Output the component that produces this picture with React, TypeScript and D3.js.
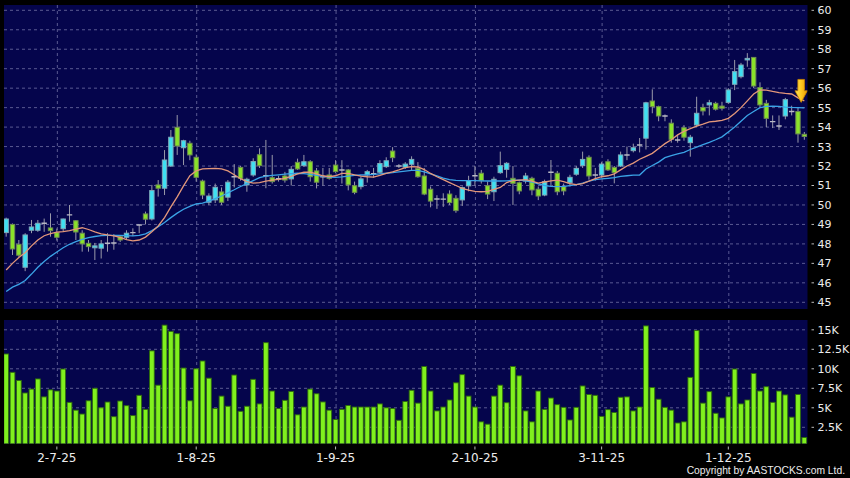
import React from 'react';
import * as d3 from 'd3';

const W = 850;
const H = 478;

const openP = [
  48.58, 49.0, 47.98, 46.8, 48.7, 48.7, 49.06, 48.82, 48.58, 48.78,
  49.49, 49.19, 48.55, 48.03, 47.8, 47.78, 48.03, 48.05, 48.37, 48.34,
  48.58, 48.97, 49.54, 49.28, 51.03, 50.86, 52.0, 53.99, 52.94, 53.17,
  52.45, 51.23, 50.14, 50.26, 50.67, 50.4, 51.45, 51.93, 51.03, 51.54,
  52.58, 51.5, 51.4, 51.35, 51.49, 51.34, 52.19, 52.02, 52.22, 51.75,
  51.45, 51.54, 52.05, 51.8, 51.8, 50.99, 50.94, 51.54, 51.6, 51.68,
  51.97, 52.77, 52.0, 51.94, 52.09, 51.88, 51.49, 50.81, 50.31, 50.3,
  50.56, 50.34, 50.26, 50.98, 51.5, 51.63, 50.99, 50.68, 51.66, 51.83,
  51.37, 51.14, 51.23, 51.37, 50.81, 50.51, 51.68, 51.63, 50.94, 51.14,
  51.58, 52.02, 52.45, 51.54, 51.54, 52.22, 51.93, 52.0, 52.57, 52.79,
  53.08, 53.43, 55.34, 55.05, 54.57, 54.2, 53.34, 53.97, 53.2, 54.11,
  55.01, 55.14, 55.22, 55.08, 55.27, 56.2, 56.59, 57.45, 57.58, 56.03,
  55.22, 54.28, 54.06, 54.57, 54.8, 54.8, 53.63,
];

const closeP = [
  49.28, 47.74, 47.42, 48.46, 48.87, 49.06, 49.06, 48.68, 48.34, 49.28,
  49.49, 48.61, 48.0, 47.86, 47.9, 48.0, 48.03, 48.05, 48.2, 48.55,
  48.58, 48.97, 49.27, 50.74, 50.86, 52.31, 53.48, 53.03, 53.3, 52.57,
  51.42, 50.51, 50.46, 50.91, 50.14, 51.17, 51.45, 51.37, 51.32, 52.23,
  52.02, 51.5, 51.2, 51.35, 51.28, 51.83, 51.85, 52.22, 51.45, 51.17,
  51.45, 51.37, 51.71, 51.8, 51.03, 50.65, 51.34, 51.71, 51.6, 52.13,
  52.27, 52.43, 52.0, 52.1, 52.34, 51.45, 50.56, 50.2, 50.31, 50.3,
  50.12, 49.71, 50.89, 51.25, 51.5, 51.25, 50.56, 51.32, 52.02, 52.14,
  51.11, 50.72, 51.49, 50.77, 50.46, 51.2, 51.68, 50.68, 50.72, 51.42,
  51.88, 52.34, 51.49, 51.54, 52.1, 51.8, 51.66, 52.57, 52.57, 52.94,
  53.08, 55.25, 55.05, 54.57, 54.57, 53.37, 53.34, 53.48, 53.48, 54.71,
  54.83, 55.25, 54.92, 54.97, 55.91, 56.85, 57.19, 57.53, 56.11, 55.14,
  54.45, 54.28, 54.06, 55.41, 54.8, 53.65, 53.52,
];

const highP = [
  49.35, 49.05, 48.2, 48.55, 49.23, 49.23, 49.3, 49.57, 48.79, 49.3,
  50.0, 49.22, 48.7, 48.2, 48.05, 48.2, 48.55, 48.5, 48.45, 48.7,
  48.8, 49.0, 49.66, 51.03, 51.28, 52.82, 53.85, 54.62, 53.35, 53.3,
  52.6, 51.3, 50.6, 51.1, 50.9, 51.28, 52.1, 52.0, 51.4, 52.4,
  52.91, 53.34, 52.57, 51.5, 51.7, 52.0, 52.38, 52.57, 52.3, 51.9,
  51.9, 51.9, 52.3, 52.3, 51.85, 51.2, 51.45, 51.8, 51.9, 52.3,
  52.45, 52.97, 52.1, 52.2, 52.5, 52.2, 51.9, 50.95, 50.5, 50.6,
  50.75, 50.5, 50.95, 51.5, 52.0, 51.8, 51.2, 51.45, 52.74, 52.2,
  52.0, 51.2, 51.65, 51.45, 50.95, 51.3, 52.31, 51.75, 51.1, 51.55,
  52.0, 52.74, 52.55, 51.9, 52.2, 52.35, 52.0, 52.74, 53.0, 53.15,
  53.44, 55.3, 55.94, 55.1, 54.65, 54.4, 53.6, 54.1, 53.6, 55.56,
  55.2, 55.4, 55.3, 55.3, 56.0, 57.45, 57.3, 57.8, 57.6, 56.3,
  55.4, 54.6, 54.6, 55.5, 55.1, 55.0, 53.75,
];

const lowP = [
  48.37, 47.43, 47.34, 46.6, 48.55, 48.62, 48.62, 48.37, 48.17, 48.62,
  49.14, 48.2, 47.6, 47.6, 47.17, 47.25, 47.6, 47.7, 48.1, 48.2,
  48.4, 48.55, 49.0, 49.2, 50.43, 50.51, 51.95, 52.57, 52.05, 52.3,
  51.2, 50.3, 50.0, 50.1, 50.0, 50.2, 50.9, 51.25, 50.68, 51.45,
  51.9, 50.86, 51.1, 51.2, 51.15, 51.0, 51.8, 51.95, 51.2, 50.85,
  51.0, 51.3, 51.65, 51.1, 50.75, 50.55, 50.8, 51.15, 51.4, 51.6,
  51.9, 52.2, 51.9, 51.85, 51.8, 51.4, 50.5, 49.88, 49.8, 49.9,
  50.0, 49.6, 49.95, 50.7, 51.0, 51.1, 50.3, 50.2, 51.6, 51.4,
  50.0, 50.55, 51.1, 50.5, 50.25, 50.45, 51.03, 50.5, 50.5, 50.95,
  51.5, 51.9, 51.3, 51.25, 51.4, 51.75, 51.11, 51.95, 52.3, 52.7,
  52.7, 52.85, 54.71, 54.3, 54.3, 53.2, 53.2, 53.3, 52.48, 54.0,
  54.6, 54.6, 54.85, 54.85, 55.2, 55.9, 56.5, 57.1, 56.0, 55.0,
  54.0, 53.95, 53.85, 54.4, 54.6, 53.2, 53.35,
];

// volume in thousands
const volumeK = [
  11.9, 9.55, 8.5, 6.9, 7.4, 8.7, 6.4, 7.3, 7.15, 9.97,
  5.7, 4.7, 4.2, 5.9, 7.5, 5.0, 5.74, 3.86, 5.87, 5.27,
  4.0, 6.6, 4.8, 12.3, 7.9, 15.6, 14.8, 14.5, 10.1, 5.9,
  10.0, 11.0, 8.8, 4.9, 6.5, 5.2, 9.2, 4.55, 5.2, 8.65,
  5.5, 13.35, 7.15, 4.9, 5.96, 7.1, 4.1, 5.1, 7.4, 6.8,
  5.75, 4.7, 3.5, 4.8, 5.3, 5.1, 5.1, 5.1, 5.1, 5.5,
  5.0, 4.9, 3.4, 5.8, 7.25, 5.6, 10.3, 7.15, 4.6, 5.1,
  6.0, 8.2, 9.25, 6.5, 5.1, 3.2, 2.9, 6.5, 7.9, 5.65,
  10.3, 9.1, 4.6, 3.2, 7.15, 4.8, 6.25, 5.4, 5.06, 3.44,
  5.06, 7.8, 6.7, 6.6, 3.9, 4.76, 4.4, 6.35, 6.4, 4.6,
  5.1, 15.5, 7.6, 6.1, 5.06, 4.7, 3.05, 3.2, 8.9, 14.9,
  5.6, 7.07, 4.3, 3.7, 6.4, 9.97, 5.5, 6.0, 9.4, 7.15,
  7.7, 5.7, 7.15, 6.65, 3.8, 6.7, 1.2,
];

// short moving average (orange)
const maShort = [
  46.66, 47.0, 47.3, 47.55, 47.9, 48.2, 48.42, 48.53, 48.6, 48.63,
  48.68, 48.76, 48.83, 48.74, 48.62, 48.52, 48.46, 48.41, 48.34, 48.22,
  48.16, 48.2, 48.35, 48.62, 48.92, 49.35, 49.9, 50.42, 50.98, 51.5,
  51.75, 51.85, 51.87, 51.88, 51.85, 51.75, 51.55, 51.35, 51.2, 51.12,
  51.15, 51.22, 51.28, 51.32, 51.37, 51.47, 51.6, 51.68, 51.68, 51.6,
  51.5, 51.45, 51.5, 51.62, 51.62, 51.55, 51.48, 51.45, 51.43, 51.52,
  51.62, 51.7, 51.8, 51.92, 51.97, 51.95, 51.82, 51.62, 51.45, 51.3,
  51.15, 51.0, 50.85, 50.76, 50.7, 50.68, 50.7, 50.8, 50.9, 51.15,
  51.25, 51.28, 51.3, 51.22, 51.12, 51.18, 51.24, 51.28, 51.2, 51.1,
  51.05, 51.1, 51.22, 51.35, 51.45, 51.5, 51.6, 51.8, 52.0, 52.15,
  52.35, 52.5, 52.65, 52.9, 53.15, 53.35, 53.6, 53.78, 53.92, 54.05,
  54.15, 54.27, 54.3, 54.35, 54.45, 54.7, 55.0, 55.35, 55.7, 55.91,
  55.9, 55.83, 55.77, 55.73, 55.7, 55.5, 55.35,
];

// long moving average (blue)
const maLong = [
  45.55, 45.78, 45.92, 46.12, 46.45, 46.8, 47.1, 47.36, 47.58, 47.8,
  47.98, 48.12, 48.23, 48.32, 48.38, 48.42, 48.44, 48.44, 48.44, 48.42,
  48.41, 48.44, 48.52, 48.68, 48.88, 49.1, 49.35, 49.58, 49.78, 49.93,
  50.05, 50.1, 50.2, 50.33, 50.46, 50.62, 50.78, 50.95, 51.1, 51.25,
  51.4, 51.48, 51.52, 51.55, 51.58, 51.61, 51.63, 51.61, 51.57, 51.52,
  51.47, 51.43, 51.42, 51.44, 51.48, 51.52, 51.54, 51.55, 51.57, 51.6,
  51.63, 51.66, 51.7, 51.74, 51.78, 51.78, 51.7, 51.6, 51.5, 51.38,
  51.3, 51.26, 51.25, 51.25, 51.25, 51.24, 51.23, 51.23, 51.23, 51.24,
  51.26, 51.28, 51.24, 51.18, 51.08, 51.0, 50.96, 50.94, 50.95, 50.99,
  51.05, 51.12, 51.22, 51.3, 51.34, 51.37, 51.4, 51.47, 51.5, 51.53,
  51.54, 51.85, 52.03, 52.2, 52.43, 52.54, 52.62, 52.7, 52.85, 52.97,
  53.1, 53.22, 53.35, 53.5, 53.75, 54.0, 54.3, 54.6, 54.8, 55.0,
  55.06, 55.08, 55.06, 55.03, 55.01, 55.0, 54.99,
];

const priceTicks = [45, 46, 47, 48, 49, 50, 51, 52, 53, 54, 55, 56, 57, 58, 59, 60];
const volTicks = [2.5, 5, 7.5, 10, 12.5, 15];
const volTickLabels = ['2.5K', '5K', '7.5K', '10K', '12.5K', '15K'];
const dateTickIndex = [8, 30, 52, 74, 94, 114];
const dateTickLabels = ['2-7-25', '1-8-25', '1-9-25', '2-10-25', '3-11-25', '1-12-25'];

// signal arrow (price levels of its top and tip), above the last candles
const arrowTopPrice = 56.45;
const arrowTipPrice = 55.27;

const FONT = '"DejaVu Sans", Verdana, sans-serif';

export default function App() {
  const n = openP.length;
  const x = d3.scaleBand<number>().domain(d3.range(n)).range([3, 807.5]).padding(0);
  const bw = x.bandwidth();
  const xc = (i: number) => (x(i) as number) + bw / 2;

  const main = { x0: 4, x1: 807.5, y0: 5, y1: 309 };
  const vol = { x0: 4, x1: 807.5, y0: 320, y1: 443.5 };

  const y = d3.scaleLinear().domain([45, 60]).range([302.3, 10.3]);
  const yv = d3.scaleLinear().domain([0, 15]).range([446.8, 329.8]);

  const line = d3
    .line<number>()
    .x((_, i) => xc(i))
    .y((d) => y(d));

  const bodyW = 4.4;
  const volW = 4.8;

  const cyan = '#3fe0f2';
  const green = '#8ae22a';
  const wick = '#9a9aaa';
  const grid = '#5a5a92';
  const panel = '#05054c';
  const txt = '#ececec';

  const ax = (xc(n - 2) + xc(n - 1)) / 2;
  const aTop = y(arrowTopPrice);
  const aTip = y(arrowTipPrice);
  const aHead = aTip - 11.6;
  const arrowPath = `M${ax - 3.3},${aTop} L${ax + 3.3},${aTop} L${ax + 3.3},${aHead} L${ax + 6.2},${aHead} L${ax},${aTip} L${ax - 6.2},${aHead} L${ax - 3.3},${aHead} Z`;

  return (
    <svg
      width={W}
      height={H}
      viewBox={`0 0 ${W} ${H}`}
      style={{ position: 'absolute', left: 0, top: 0, display: 'block' }}
      fontFamily={FONT}
    >
      <defs>
        <clipPath id="clipMain">
          <rect x={main.x0} y={main.y0} width={main.x1 - main.x0} height={main.y1 - main.y0} />
        </clipPath>
        <clipPath id="clipVol">
          <rect x={vol.x0} y={vol.y0} width={vol.x1 - vol.x0} height={vol.y1 - vol.y0} />
        </clipPath>
        <linearGradient id="arrowGrad" x1="0" y1="0" x2="1" y2="0">
          <stop offset="0" stopColor="#ffe45a" />
          <stop offset="0.5" stopColor="#ffc820" />
          <stop offset="1" stopColor="#e89a00" />
        </linearGradient>
      </defs>
      <rect x={0} y={0} width={W} height={H} fill="#000" />

      {/* main panel */}
      <rect x={main.x0} y={main.y0} width={main.x1 - main.x0} height={main.y1 - main.y0} fill={panel} />
      <g clipPath="url(#clipMain)">
        {priceTicks.map((p) => (
          <line key={'pg' + p} x1={main.x0} x2={main.x1} y1={y(p)} y2={y(p)} stroke={grid} strokeWidth={1} strokeDasharray="3,3" />
        ))}
        {dateTickIndex.map((i) => (
          <line key={'vg' + i} x1={xc(i) + 0.5} x2={xc(i) + 0.5} y1={main.y0} y2={main.y1} stroke={grid} strokeWidth={1} strokeDasharray="3,3" />
        ))}
        {openP.map((o, i) => (
          <line key={'w' + i} x1={xc(i)} x2={xc(i)} y1={y(highP[i])} y2={y(lowP[i])} stroke={wick} strokeWidth={1} />
        ))}
        {openP.map((o, i) => {
          const c = closeP[i];
          const cx = xc(i);
          if (Math.abs(c - o) < 0.03) {
            return (
              <line key={'b' + i} x1={cx - bodyW / 2 - 0.5} x2={cx + bodyW / 2 + 0.5} y1={y(c)} y2={y(c)} stroke="#b8b8c4" strokeWidth={1.4} />
            );
          }
          const up = c > o;
          const top = y(Math.max(o, c));
          const bot = y(Math.min(o, c));
          return (
            <rect
              key={'b' + i}
              x={cx - bodyW / 2}
              y={top}
              width={bodyW}
              height={Math.max(1, bot - top)}
              fill={up ? cyan : green}
              stroke={up ? '#7fa8b8' : '#6e8a52'}
              strokeWidth={1}
            />
          );
        })}
        <path d={line(maLong) || ''} fill="none" stroke="#3ba3e6" strokeWidth={1.3} />
        <path d={line(maShort) || ''} fill="none" stroke="#e3977a" strokeWidth={1.3} />
        <path d={arrowPath} fill="url(#arrowGrad)" stroke="#c88400" strokeWidth={0.8} />
      </g>

      {/* price axis */}
      {priceTicks.map((p) => (
        <g key={'pt' + p}>
          <line x1={811.5} x2={814} y1={y(p)} y2={y(p)} stroke="#bbbbbb" strokeWidth={1} />
          <text x={817.5} y={y(p)} dy="0.36em" fontSize={11} fill={txt}>
            {p}
          </text>
        </g>
      ))}

      {/* volume panel */}
      <rect x={vol.x0} y={vol.y0} width={vol.x1 - vol.x0} height={vol.y1 - vol.y0} fill={panel} />
      <g clipPath="url(#clipVol)">
        {volTicks.map((v) => (
          <line key={'vgh' + v} x1={vol.x0} x2={vol.x1} y1={yv(v)} y2={yv(v)} stroke={grid} strokeWidth={1} strokeDasharray="3,3" />
        ))}
        {dateTickIndex.map((i) => (
          <line key={'vgv' + i} x1={xc(i) + 0.5} x2={xc(i) + 0.5} y1={vol.y0} y2={vol.y1} stroke={grid} strokeWidth={1} strokeDasharray="3,3" />
        ))}
        {volumeK.map((v, i) => (
          <rect
            key={'v' + i}
            x={xc(i) - volW / 2}
            y={yv(v)}
            width={volW}
            height={vol.y1 - yv(v) + 2}
            fill="#80f01e"
            stroke="#2e6a0e"
            strokeWidth={0.9}
          />
        ))}
      </g>

      {/* volume axis */}
      {volTicks.map((v, k) => (
        <g key={'vt' + v}>
          <line x1={811.5} x2={814} y1={yv(v)} y2={yv(v)} stroke="#bbbbbb" strokeWidth={1} />
          <text x={817.5} y={yv(v)} dy="0.36em" fontSize={11} fill={txt}>
            {volTickLabels[k]}
          </text>
        </g>
      ))}

      {/* date axis */}
      {dateTickIndex.map((i, k) => (
        <g key={'dt' + i}>
          <line x1={xc(i)} x2={xc(i)} y1={446.5} y2={449.5} stroke="#bbbbbb" strokeWidth={1} />
          <text x={xc(i)} y={461.5} textAnchor="middle" fontSize={12} fill={txt}>
            {dateTickLabels[k]}
          </text>
        </g>
      ))}

      <text
        x={845}
        y={474}
        textAnchor="end"
        fontSize={10.3}
        fontFamily='"Liberation Sans", Arial, sans-serif'
        fill={txt}
      >
        Copyright by AASTOCKS.com Ltd.
      </text>
    </svg>
  );
}
